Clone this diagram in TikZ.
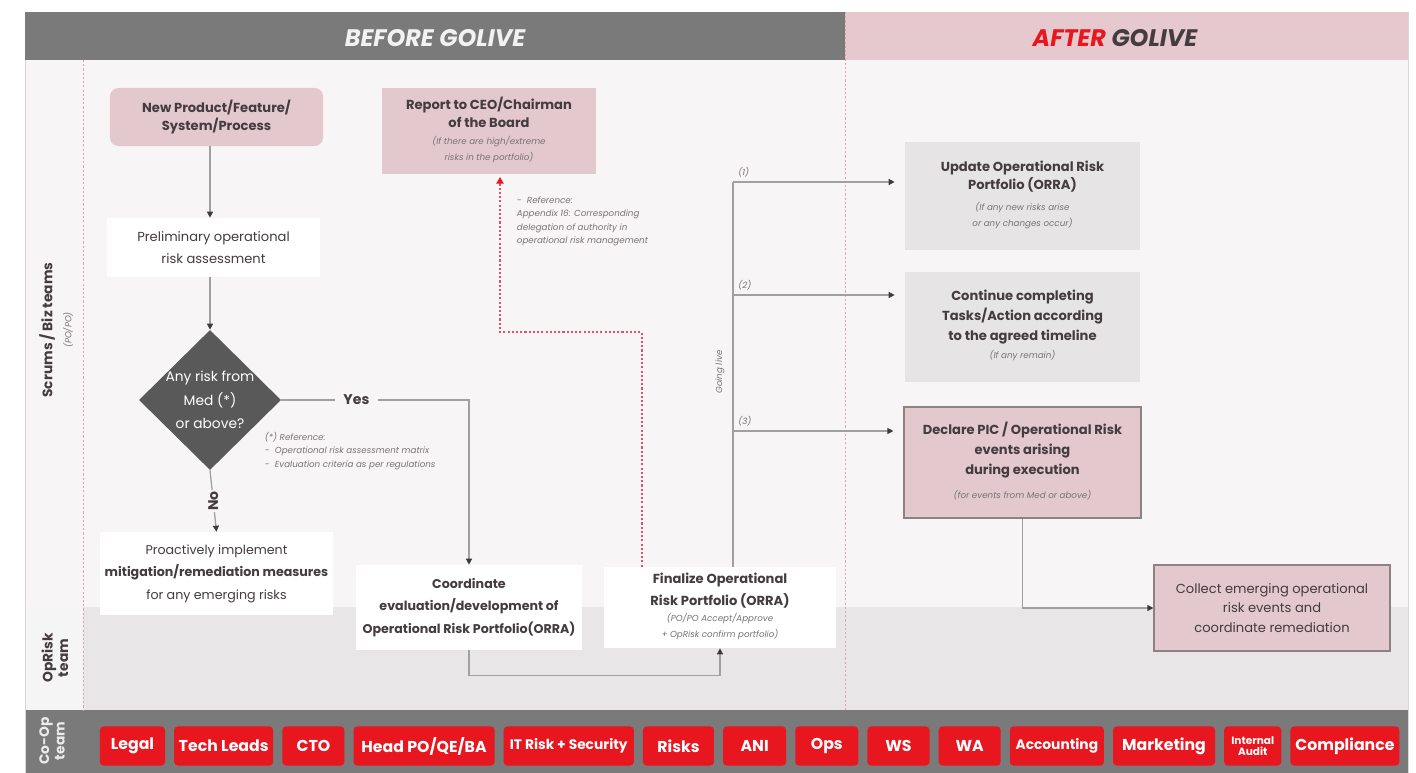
\documentclass[tikz,border=0pt]{standalone}
\usepackage{fontspec}
\setmainfont{Poppins}
\usetikzlibrary{positioning,arrows.meta,shapes.geometric}
\usepackage{xcolor}
\definecolor{ORGrey}{RGB}{122,122,122}
\definecolor{ORHeadPink}{RGB}{229,201,206}
\definecolor{ORPink}{RGB}{227,200,205}
\definecolor{ORLane}{RGB}{248,245,246}
\definecolor{ORLaneMid}{RGB}{232,230,231}
\definecolor{ORSide}{RGB}{246,245,245}
\definecolor{ORBoxGrey}{RGB}{230,228,229}
\definecolor{ORDiamond}{RGB}{89,89,89}
\definecolor{ORRed}{RGB}{232,22,30}
\definecolor{ORText}{RGB}{68,60,62}
\definecolor{ORNote}{RGB}{120,115,117}
\definecolor{ORLine}{RGB}{160,160,160}
\definecolor{ORTip}{RGB}{60,60,60}
\definecolor{ORDots}{RGB}{228,160,176}
\definecolor{OREscalate}{RGB}{230,80,100}
\definecolor{ORBorder}{RGB}{140,130,132}
\definecolor{ORFrame}{RGB}{216,212,213}

\newcommand{\notefont}{\mdseries\itshape\fontsize{6.2}{9.5}\selectfont\color{ORNote}}
% small italic lines under a box title
\newcommand{\subnote}[1]{{\notefont\renewcommand{\arraystretch}{1.2}\begin{tabular}{@{}c@{}}#1\end{tabular}}}

\begin{document}
\begin{tikzpicture}[
x=0.025cm,y=-0.025cm,
node distance=0.215cm,
box/.style={
rectangle,align=center,text=ORText,inner sep=2pt,
font=\bfseries\fontsize{9.3}{13}\selectfont
},
pinkbox/.style={box,fill=ORPink},
whitebox/.style={box,fill=white},
greybox/.style={box,fill=ORBoxGrey},
decision/.style={
diamond,fill=ORDiamond,text=white,align=center,inner sep=-3pt,
font=\fontsize{9.8}{16.5}\selectfont
},
team/.style={
rectangle,rounded corners=2.5pt,fill=ORRed,text=white,
minimum height=0.975cm,inner xsep=1pt,font=\bfseries\fontsize{11.2}{12}\selectfont
},
lanelabel/.style={rotate=90,align=center,text=ORText,font=\bfseries\fontsize{9.8}{11}\selectfont},
headtitle/.style={font=\bfseries\itshape\fontsize{17}{19}\selectfont},
note/.style={align=left,font=\notefont},
flowlabel/.style={fill=ORLane,text=ORText,font=\bfseries\fontsize{10}{11}\selectfont},
arrow/.style={-{Triangle[length=1.5mm,width=1.5mm,color=ORTip]},draw=ORLine,line width=0.9pt},
link/.style={draw=ORLine,line width=0.9pt},
divider/.style={draw=ORDots,line width=0.7pt,dash pattern=on 1.5pt off 1.5pt},
escalate/.style={-{Triangle[length=1.6mm,width=1.8mm,color=ORRed]},draw=OREscalate,line width=0.9pt,dash pattern=on 1.5pt off 1.5pt}
]

\useasboundingbox (0,0) rectangle (1416,773);
\fill[white] (0,0) rectangle (1416,773);

% swimlanes
\fill[ORLane] (25,60) rectangle (1408,607);
\fill[ORLaneMid] (83,607) rectangle (1408,710);
\fill[ORSide] (25,607) rectangle (83,710);
\fill[ORGrey] (25,710) rectangle (1408,773);
\draw[ORFrame,line width=0.5pt] (25,12) rectangle (1408,773);

% header
\fill[ORGrey] (25,12) rectangle (845,60);
\fill[ORHeadPink] (845,12) rectangle (1408,60);
\node[headtitle,text=white!95!black] (before) at (435,38) {BEFORE GOLIVE};
\node[headtitle,text=ORText] (after) at (1115,38) {\textcolor{ORRed}{AFTER} GOLIVE};

\draw[divider] (83,60) -- (83,710);
\draw[divider] (845,12) -- (845,710);

% lane names
\node[lanelabel] (scrums) at (47,330) {Scrums / Biz teams};
\node[note,rotate=90] (scrumsub) at (68,330) {(PO/PO)};
\node[lanelabel] (oprisk) at (55,658) {OpRisk\\team};
\node[lanelabel,text=white!85!ORGrey] (coop) at (52,741) {Co-Op\\team};

% before golive
\node[pinkbox,rounded corners=6pt,minimum width=5.325cm,minimum height=1.45cm] (newprod) at (216.5,117) {New Product/Feature/\\System/Process};

\node[whitebox,font=\fontsize{9.3}{16}\selectfont,minimum width=5.325cm,minimum height=1.475cm] (prelim) at (213.5,247.5) {Preliminary operational\\risk assessment};

\node[decision,minimum width=3.55cm,minimum height=3.5cm] (decide) at (210,400) {Any risk from\\Med (*)\\or above?};

\node[note,anchor=west] (stardef) at (260,451) {(*) Reference:\\- \ Operational risk assessment matrix\\- \ Evaluation criteria as per regulations};

\node[whitebox,font=\fontsize{9}{16}\selectfont,minimum width=5.825cm,minimum height=2.075cm] (proact) at (216.5,573.5) {Proactively implement\\\textbf{mitigation/remediation measures}\\for any emerging risks};

\node[whitebox,font=\bfseries\fontsize{9}{16}\selectfont,minimum width=5.65cm,minimum height=2.125cm] (coord) at (469,607.5) {Coordinate\\evaluation/development of\\Operational Risk Portfolio(ORRA)};

\node[whitebox,font=\bfseries\fontsize{9.3}{15.5}\selectfont,minimum width=5.8cm,minimum height=2.025cm] (final) at (720,607.5) {Finalize Operational\\Risk Portfolio (ORRA)\\[1pt]\subnote{(PO/PO Accept/Approve\\+ OpRisk confirm portfolio)}};

\node[pinkbox,minimum width=5.35cm,minimum height=2.15cm] (report) at (489,131) {Report to CEO/Chairman\\of the Board\\[4pt]\subnote{(If there are high/extreme\\risks in the portfolio)}};

\node[note,anchor=north west] (appx) at (512,192) {- \ Reference:\\Appendix 16: Corresponding\\delegation of authority in\\operational risk management};

% after golive
\node[greybox,minimum width=5.875cm,minimum height=2.7cm] (update) at (1022.5,196) {Update Operational Risk\\Portfolio (ORRA)\\[4pt]\subnote{(If any new risks arise\\or any changes occur)}};

\node[greybox,font=\bfseries\fontsize{9.3}{14.2}\selectfont,minimum width=5.875cm,minimum height=2.725cm] (cont) at (1022.5,327) {Continue completing\\Tasks/Action according\\to the agreed timeline\\[-2pt]\subnote{(If any remain)}};

\node[pinkbox,draw=ORBorder,line width=0.8pt,font=\bfseries\fontsize{9.3}{14.2}\selectfont,minimum width=5.925cm,minimum height=2.775cm] (declare) at (1022.5,462.5) {Declare PIC / Operational Risk\\events arising\\during execution\\[2pt]\subnote{(for events from Med or above)}};

\node[pinkbox,draw=ORBorder,line width=0.8pt,font=\fontsize{9.3}{14}\selectfont,minimum width=5.9cm,minimum height=2.15cm] (collect) at (1272,608) {Collect emerging operational\\risk events and\\coordinate remediation};

% flow
\draw[arrow] (newprod.south -| decide) -- (prelim.north -| decide);
\draw[arrow] (prelim.south -| decide) -- (decide.north);
\draw[arrow] (decide.south) -- node[flowlabel,rotate=90,inner sep=1pt]{No} (proact.north);
\draw[arrow] (decide.east) -| node[flowlabel,pos=0.2,inner xsep=6pt]{Yes} (coord.north);
\draw[arrow] (coord.south) -- ++(0,25) -| (final.south);

\coordinate (esc) at (500,332);
\draw[escalate,shorten >=2pt] ([xshift=-1.95cm]final.north) |- (esc) -- (esc |- report.south);

\coordinate (trunk) at (733,182);
\coordinate (fork2) at (733,295);
\coordinate (fork3) at (733,431);
\draw[link] (final.north -| trunk) -- (trunk);
\node[note,rotate=90] (golive) at (720,372) {Going live};
\draw[arrow,shorten >=0.25cm] (trunk) -- node[note,pos=0,anchor=south west]{(1)} (trunk -| update.west);
\draw[arrow,shorten >=0.25cm] (fork2) -- node[note,pos=0,anchor=south west]{(2)} (fork2 -| cont.west);
\draw[arrow,shorten >=0.25cm] (fork3) -- node[note,pos=0,anchor=south west]{(3)} (fork3 -| declare.west);

\draw[arrow] (declare.south) |- (collect.west);

% co-op teams
\node[team,minimum width=1.625cm] (legal) at (132.5,746) {Legal};
\node[team,minimum width=2.475cm,right=of legal] (techleads) {Tech Leads};
\node[team,minimum width=1.55cm,right=of techleads] (cto) {CTO};
\node[team,minimum width=3.525cm,right=of cto] (headpo) {Head PO/QE/BA};
\node[team,minimum width=3.25cm,right=of headpo,font=\bfseries\fontsize{9.8}{11}\selectfont] (itrisk) {IT Risk + Security};
\node[team,minimum width=1.775cm,right=of itrisk] (risks) {Risks};
\node[team,minimum width=1.575cm,right=of risks] (ani) {ANI};
\node[team,minimum width=1.575cm,right=of ani] (ops) {Ops};
\node[team,minimum width=1.55cm,right=of ops] (ws) {WS};
\node[team,minimum width=1.55cm,right=of ws] (wa) {WA};
\node[team,minimum width=2.35cm,right=of wa,font=\bfseries\fontsize{9.8}{11}\selectfont] (accounting) {Accounting};
\node[team,minimum width=2.55cm,right=of accounting] (marketing) {Marketing};
\node[team,minimum width=1.425cm,right=of marketing,align=center,font=\bfseries\fontsize{7.5}{8}\selectfont] (audit) {Internal\\Audit};
\node[team,minimum width=2.725cm,right=of audit] (compliance) {Compliance};

\end{tikzpicture}
\end{document}
